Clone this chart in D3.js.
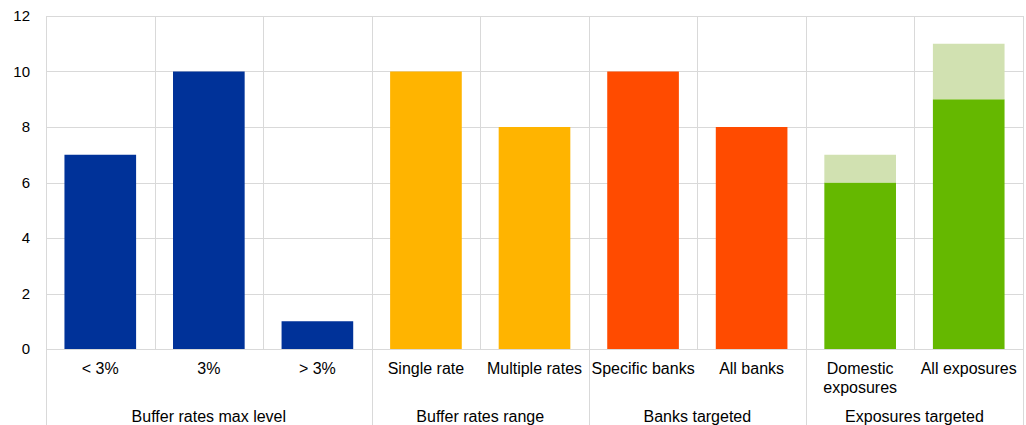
<!DOCTYPE html>
<html>
<head>
<meta charset="utf-8">
<script src="https://cdn.jsdelivr.net/npm/d3@7"></script>
<style>
  html, body { margin: 0; padding: 0; background: #fff; }
  svg text { font-family: "Liberation Sans", Arial, sans-serif; fill: #000; }
</style>
</head>
<body>
<svg id="chart" width="1026" height="425"></svg>
<script>
// Categories along the x axis, grouped by theme
const categories = ["< 3%", "3%", "> 3%", "Single rate", "Multiple rates", "Specific banks", "All banks", "Domestic exposures", "All exposures"];
const groups = ["Buffer rates max level", "Buffer rates max level", "Buffer rates max level",
                "Buffer rates range", "Buffer rates range",
                "Banks targeted", "Banks targeted",
                "Exposures targeted", "Exposures targeted"];
// Main count per category and the additional (lighter) count stacked on top
const mainValues = [7, 10, 1, 10, 8, 10, 8, 6, 9];
const extraValues = [0, 0, 0, 0, 0, 0, 0, 1, 2];
const barColors = ["#003299", "#003299", "#003299", "#ffb400", "#ffb400", "#ff4b00", "#ff4b00", "#65b800", "#65b800"];
const extraColor = "#d1e1b1";
const yTicks = [0, 2, 4, 6, 8, 10, 12];

const svg = d3.select("#chart");
const plot = { left: 46, right: 1023, top: 16, bottom: 349 };

const x = d3.scaleBand().domain(categories).range([plot.left, plot.right]).paddingInner(0.34).paddingOuter(0.17);
const y = d3.scaleLinear().domain([0, 12]).range([plot.bottom, plot.top]);
const step = x.step();
const gridColor = "#d9d9d9";

// horizontal gridlines
svg.append("g").selectAll("line").data(yTicks).join("line")
  .attr("x1", plot.left).attr("x2", plot.right)
  .attr("y1", d => Math.round(y(d)) + 0.5).attr("y2", d => Math.round(y(d)) + 0.5)
  .attr("stroke", gridColor).attr("stroke-width", 1);

// vertical category dividers in the plot area
const bounds = d3.range(categories.length + 1).map(i => plot.left + i * step);
svg.append("g").selectAll("line").data(bounds).join("line")
  .attr("x1", d => Math.round(d) + 0.5).attr("x2", d => Math.round(d) + 0.5)
  .attr("y1", plot.top).attr("y2", plot.bottom)
  .attr("stroke", gridColor).attr("stroke-width", 1);

// group dividers extend below the axis
const groupBounds = [0];
groups.forEach((g, i) => { if (i > 0 && g !== groups[i - 1]) groupBounds.push(i); });
groupBounds.push(categories.length);
svg.append("g").selectAll("line").data(groupBounds).join("line")
  .attr("x1", i => Math.round(plot.left + i * step) + 0.5).attr("x2", i => Math.round(plot.left + i * step) + 0.5)
  .attr("y1", plot.bottom).attr("y2", 425)
  .attr("stroke", gridColor).attr("stroke-width", 1);

// bars
const bars = svg.append("g");
bars.selectAll("rect.main").data(categories).join("rect")
  .attr("class", "main")
  .attr("x", d => x(d)).attr("width", x.bandwidth())
  .attr("y", (d, i) => y(mainValues[i]))
  .attr("height", (d, i) => y(0) - y(mainValues[i]))
  .attr("fill", (d, i) => barColors[i]);
bars.selectAll("rect.extra").data(categories).join("rect")
  .attr("class", "extra")
  .attr("x", d => x(d)).attr("width", x.bandwidth())
  .attr("y", (d, i) => y(mainValues[i] + extraValues[i]))
  .attr("height", (d, i) => y(mainValues[i]) - y(mainValues[i] + extraValues[i]))
  .attr("fill", extraColor);

// x axis line
svg.append("line").attr("x1", plot.left).attr("x2", plot.right)
  .attr("y1", plot.bottom + 0.5).attr("y2", plot.bottom + 0.5)
  .attr("stroke", gridColor);

// y axis labels
const yAxis = d3.axisLeft(y).tickValues(yTicks).tickSize(0).tickPadding(16).tickFormat(d3.format("d"));
const yg = svg.append("g").attr("transform", `translate(${plot.left},0)`).call(yAxis);
yg.select(".domain").remove();
yg.selectAll("text").style("font-size", "15px").style("font-family", "'Liberation Sans', Arial, sans-serif").attr("fill", "#000");

// category labels (wrap two-word labels that are too long for the band)
const catG = svg.append("g");
categories.forEach((c, i) => {
  const cx = x(c) + x.bandwidth() / 2;
  const lines = c === "Domestic exposures" ? ["Domestic", "exposures"] : [c];
  const t = catG.append("text").attr("text-anchor", "middle").style("font-size", "16px");
  lines.forEach((ln, k) => {
    t.append("tspan").attr("x", cx).attr("y", 374 + k * 19).text(ln);
  });
});

// group labels
const groupNames = groupBounds.slice(0, -1).map(i => groups[i]);
svg.append("g").selectAll("text").data(groupNames).join("text")
  .attr("x", (g, k) => plot.left + (groupBounds[k] + groupBounds[k + 1]) / 2 * step)
  .attr("y", 422)
  .attr("text-anchor", "middle")
  .style("font-size", "16px")
  .text(d => d);
</script>
</body>
</html>
